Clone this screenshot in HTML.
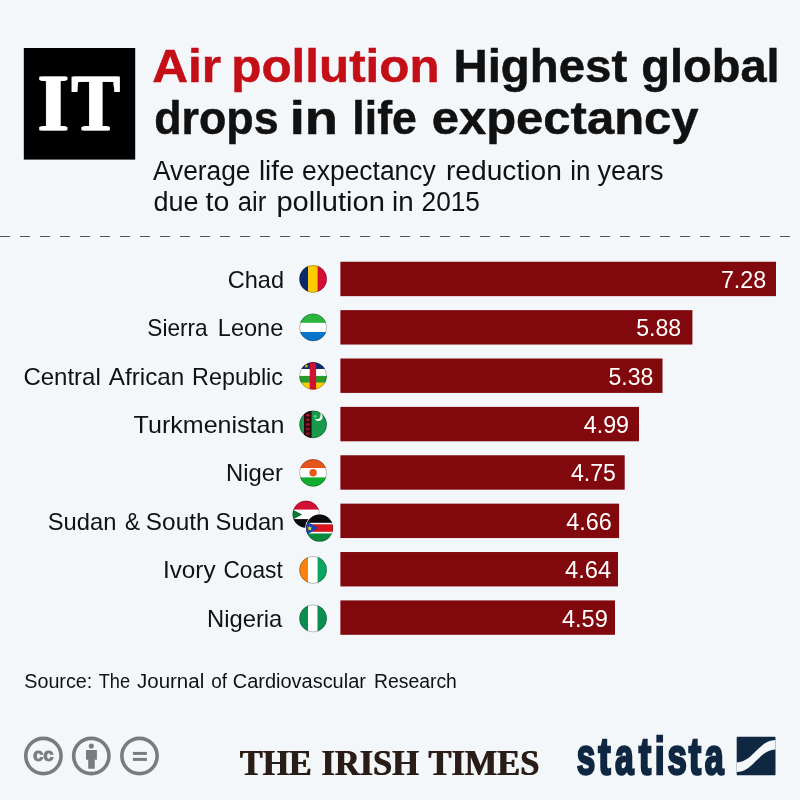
<!DOCTYPE html>
<html lang="en"><head><meta charset="utf-8"><title>Air pollution: Highest global drops in life expectancy</title>
<style>html,body{margin:0;padding:0;background:#f3f7fa}body{width:800px;height:800px;overflow:hidden}svg{display:block}text{font-family:"Liberation Sans",Arial,sans-serif;fill:#111}.ser{font-family:"Liberation Serif","Times New Roman",serif}.b{font-weight:bold}</style></head><body>
<svg width="800" height="800" viewBox="0 0 800 800">
<rect width="800" height="800" fill="#f3f7fa"/>
<rect x="23.8" y="48" width="111.4" height="111.6" fill="#000"/>
<filter id="hb" x="-10%" y="-10%" width="120%" height="120%"><feOffset in="SourceGraphic" dx="-1.1" result="a"/><feOffset in="SourceGraphic" dx="1.1" result="b"/><feMerge><feMergeNode in="a"/><feMergeNode in="SourceGraphic"/><feMergeNode in="b"/></feMerge></filter>
<g filter="url(#hb)"><text class="b ser" y="130.05" font-size="80.8" style="fill:#fff;stroke:#fff;stroke-width:0.4;"><tspan x="37.83" textLength="31.04" lengthAdjust="spacingAndGlyphs">I</tspan><tspan x="71.66" textLength="48.09" lengthAdjust="spacingAndGlyphs">T</tspan></text></g>
<text class="b" y="81.70" font-size="46.5" style="stroke:#111;stroke-width:0.5;"><tspan x="152.18" textLength="68.92" lengthAdjust="spacingAndGlyphs" style="fill:#c40f16;stroke:#c40f16">Air</tspan> <tspan x="231.32" textLength="208.23" lengthAdjust="spacingAndGlyphs" style="fill:#c40f16;stroke:#c40f16">pollution</tspan> <tspan x="453.44" textLength="173.80" lengthAdjust="spacingAndGlyphs">Highest</tspan> <tspan x="641.24" textLength="138.36" lengthAdjust="spacingAndGlyphs">global</tspan></text>
<text class="b" y="134.00" font-size="46.5" style="stroke:#111;stroke-width:0.5;"><tspan x="154.29" textLength="124.25" lengthAdjust="spacingAndGlyphs">drops</tspan> <tspan x="289.74" textLength="48.32" lengthAdjust="spacingAndGlyphs">in</tspan> <tspan x="352.37" textLength="64.45" lengthAdjust="spacingAndGlyphs">life</tspan> <tspan x="431.70" textLength="266.91" lengthAdjust="spacingAndGlyphs">expectancy</tspan></text>
<text y="179.70" font-size="27"><tspan x="153.00" textLength="97.49" lengthAdjust="spacingAndGlyphs">Average</tspan> <tspan x="258.98" textLength="35.31" lengthAdjust="spacingAndGlyphs">life</tspan> <tspan x="302.02" textLength="133.74" lengthAdjust="spacingAndGlyphs">expectancy</tspan> <tspan x="445.96" textLength="115.85" lengthAdjust="spacingAndGlyphs">reduction</tspan> <tspan x="570.29" textLength="20.19" lengthAdjust="spacingAndGlyphs">in</tspan> <tspan x="597.50" textLength="66.00" lengthAdjust="spacingAndGlyphs">years</tspan></text>
<text y="211.20" font-size="27"><tspan x="153.50" textLength="45.01" lengthAdjust="spacingAndGlyphs">due</tspan> <tspan x="205.50" textLength="23.83" lengthAdjust="spacingAndGlyphs">to</tspan> <tspan x="237.80" textLength="28.44" lengthAdjust="spacingAndGlyphs">air</tspan> <tspan x="276.42" textLength="108.42" lengthAdjust="spacingAndGlyphs">pollution</tspan> <tspan x="391.97" textLength="21.57" lengthAdjust="spacingAndGlyphs">in</tspan> <tspan x="421.53" textLength="58.46" lengthAdjust="spacingAndGlyphs">2015</tspan></text>
<line x1="0" y1="236.5" x2="800" y2="236.5" stroke="#555" stroke-width="1" stroke-dasharray="10 10"/>
<rect x="340.4" y="261.75" width="435.6" height="34.4" fill="#81080c"/>
<text y="287.95" font-size="24"><tspan x="227.82" textLength="56.20" lengthAdjust="spacingAndGlyphs">Chad</tspan></text>
<text transform="translate(720.93 287.95) scale(0.9699 1.0000)" font-size="24" style="fill:#fff">7.28</text>
<g><clipPath id="fc0"><circle cx="313.10" cy="278.90" r="13.70"/></clipPath><g clip-path="url(#fc0)"><rect x="298.40" y="264.20" width="9.70" height="29.40" fill="#0b2a6b"/><rect x="308.10" y="264.20" width="9.40" height="29.40" fill="#fecb00"/><rect x="317.50" y="264.20" width="10.30" height="29.40" fill="#d10f35"/></g><circle cx="313.10" cy="278.90" r="13.50" stroke="#000" stroke-opacity=".38" stroke-width=".7" fill="none"/></g>
<rect x="340.4" y="310.13" width="352.0" height="34.4" fill="#81080c"/>
<text y="336.33" font-size="24"><tspan x="147.36" textLength="60.28" lengthAdjust="spacingAndGlyphs">Sierra</tspan> <tspan x="217.77" textLength="65.57" lengthAdjust="spacingAndGlyphs">Leone</tspan></text>
<text transform="translate(636.25 336.33) scale(0.9630 1.0000)" font-size="24" style="fill:#fff">5.88</text>
<g><clipPath id="fc1"><circle cx="313.10" cy="327.40" r="13.70"/></clipPath><g clip-path="url(#fc1)"><rect x="298.40" y="312.70" width="29.40" height="10.20" fill="#2bb53c"/><rect x="298.40" y="322.90" width="29.40" height="9.10" fill="#ffffff"/><rect x="298.40" y="332.00" width="29.40" height="10.10" fill="#0a74c8"/></g><circle cx="313.10" cy="327.40" r="13.50" stroke="#000" stroke-opacity=".38" stroke-width=".7" fill="none"/></g>
<rect x="340.4" y="358.51" width="322.1" height="34.4" fill="#81080c"/>
<text y="384.71" font-size="24"><tspan x="23.40" textLength="77.43" lengthAdjust="spacingAndGlyphs">Central</tspan> <tspan x="108.75" textLength="75.61" lengthAdjust="spacingAndGlyphs">African</tspan> <tspan x="192.03" textLength="90.97" lengthAdjust="spacingAndGlyphs">Republic</tspan></text>
<text transform="translate(608.50 384.71) scale(0.9620 1.0000)" font-size="24" style="fill:#fff">5.38</text>
<g><clipPath id="fc2"><circle cx="313.10" cy="375.90" r="13.70"/></clipPath><g clip-path="url(#fc2)"><rect x="298.40" y="361.20" width="29.40" height="7.80" fill="#0b2a6b"/><rect x="298.40" y="369.00" width="29.40" height="6.90" fill="#ffffff"/><rect x="298.40" y="375.90" width="29.40" height="6.90" fill="#2a9a2a"/><rect x="298.40" y="382.80" width="29.40" height="7.80" fill="#ffce00"/><rect x="309.70" y="361.20" width="6.40" height="29.40" fill="#d21034"/><polygon points="306.40,364.10 306.93,365.47 308.40,365.55 307.26,366.48 307.63,367.90 306.40,367.10 305.17,367.90 305.54,366.48 304.40,365.55 305.87,365.47" fill="#ffce00"/></g><circle cx="313.10" cy="375.90" r="13.50" stroke="#000" stroke-opacity=".38" stroke-width=".7" fill="none"/></g>
<rect x="340.4" y="406.89" width="298.6" height="34.4" fill="#81080c"/>
<text y="433.09" font-size="24"><tspan x="133.60" textLength="150.81" lengthAdjust="spacingAndGlyphs">Turkmenistan</tspan></text>
<text transform="translate(583.75 433.09) scale(0.9706 1.0000)" font-size="24" style="fill:#fff">4.99</text>
<g><clipPath id="fc3"><circle cx="313.10" cy="424.40" r="13.70"/></clipPath><g clip-path="url(#fc3)"><rect x="298.40" y="409.70" width="29.40" height="29.40" fill="#179a4b"/><rect x="304.00" y="409.70" width="7.60" height="29.40" fill="#2c0a0d"/><ellipse cx="307.8" cy="415.20" rx="1.9" ry="1.2" fill="#a8182c"/><ellipse cx="307.8" cy="419.80" rx="1.9" ry="1.2" fill="#a8182c"/><ellipse cx="307.8" cy="424.40" rx="1.9" ry="1.2" fill="#a8182c"/><ellipse cx="307.8" cy="429.00" rx="1.9" ry="1.2" fill="#a8182c"/><ellipse cx="307.8" cy="433.60" rx="1.9" ry="1.2" fill="#a8182c"/><circle cx="318.30" cy="416.80" r="4.30" fill="#f2fff5"/><circle cx="316.60" cy="415.30" r="3.90" fill="#179a4b"/><circle cx="315.20" cy="416.20" r="1.5" fill="#6fdc9a" opacity=".75"/></g><circle cx="313.10" cy="424.40" r="13.50" stroke="#000" stroke-opacity=".38" stroke-width=".7" fill="none"/></g>
<rect x="340.4" y="455.27" width="284.3" height="34.4" fill="#81080c"/>
<text y="481.47" font-size="24"><tspan x="226.01" textLength="56.99" lengthAdjust="spacingAndGlyphs">Niger</tspan></text>
<text transform="translate(571.00 481.47) scale(0.9620 1.0000)" font-size="24" style="fill:#fff">4.75</text>
<g><clipPath id="fc4"><circle cx="313.10" cy="472.90" r="13.70"/></clipPath><g clip-path="url(#fc4)"><rect x="298.40" y="458.20" width="29.40" height="9.80" fill="#e4561b"/><rect x="298.40" y="468.00" width="29.40" height="9.40" fill="#ffffff"/><rect x="298.40" y="477.40" width="29.40" height="10.20" fill="#11ad2e"/><circle cx="313.10" cy="472.70" r="3.7" fill="#e4561b"/></g><circle cx="313.10" cy="472.90" r="13.50" stroke="#000" stroke-opacity=".38" stroke-width=".7" fill="none"/></g>
<rect x="340.4" y="503.65" width="278.7" height="34.4" fill="#81080c"/>
<text y="529.85" font-size="24"><tspan x="47.76" textLength="68.57" lengthAdjust="spacingAndGlyphs">Sudan</tspan> <tspan x="125.00" textLength="15.01" lengthAdjust="spacingAndGlyphs">&amp;</tspan> <tspan x="145.89" textLength="63.58" lengthAdjust="spacingAndGlyphs">South</tspan> <tspan x="215.61" textLength="68.72" lengthAdjust="spacingAndGlyphs">Sudan</tspan></text>
<text transform="translate(566.25 529.85) scale(0.9760 1.0000)" font-size="24" style="fill:#fff">4.66</text>
<g><clipPath id="fc5a"><circle cx="306.10" cy="514.25" r="13.50"/></clipPath><g clip-path="url(#fc5a)"><rect x="291.40" y="499.55" width="29.40" height="10.20" fill="#d21034"/><rect x="291.40" y="509.75" width="29.40" height="9.35" fill="#ffffff"/><rect x="291.40" y="519.10" width="29.40" height="9.85" fill="#0a0a0a"/><polygon points="288.00,507.20 302.20,514.60 288.00,522.20" fill="#0a7a33"/></g><circle cx="306.10" cy="514.25" r="13.30" stroke="#000" stroke-opacity=".38" stroke-width=".7" fill="none"/></g><circle cx="319.60" cy="528.10" r="14.40" fill="#f3f7fa"/><g><clipPath id="fc5b"><circle cx="319.60" cy="528.10" r="13.50"/></clipPath><g clip-path="url(#fc5b)"><rect x="304.90" y="513.40" width="29.40" height="9.50" fill="#0a0a0a"/><rect x="304.90" y="522.90" width="29.40" height="1.40" fill="#ffffff"/><rect x="304.90" y="524.30" width="29.40" height="7.60" fill="#da121a"/><rect x="304.90" y="531.90" width="29.40" height="1.60" fill="#ffffff"/><rect x="304.90" y="533.50" width="29.40" height="9.30" fill="#0a8a3a"/><polygon points="300.00,517.50 318.30,528.10 300.00,538.70" fill="#1545b4"/><polygon points="309.70,525.80 310.35,527.51 312.17,527.60 310.75,528.74 311.23,530.50 309.70,529.50 308.17,530.50 308.65,528.74 307.23,527.60 309.05,527.51" fill="#fce100"/></g><circle cx="319.60" cy="528.10" r="13.30" stroke="#000" stroke-opacity=".38" stroke-width=".7" fill="none"/></g>
<rect x="340.4" y="552.03" width="277.6" height="34.4" fill="#81080c"/>
<text y="578.23" font-size="24"><tspan x="162.98" textLength="52.62" lengthAdjust="spacingAndGlyphs">Ivory</tspan> <tspan x="223.46" textLength="59.23" lengthAdjust="spacingAndGlyphs">Coast</tspan></text>
<text transform="translate(565.00 578.23) scale(0.9900 1.0000)" font-size="24" style="fill:#fff">4.64</text>
<g><clipPath id="fc6"><circle cx="313.10" cy="569.90" r="13.70"/></clipPath><g clip-path="url(#fc6)"><rect x="298.40" y="555.20" width="9.70" height="29.40" fill="#f98210"/><rect x="308.10" y="555.20" width="9.50" height="29.40" fill="#ffffff"/><rect x="317.60" y="555.20" width="10.20" height="29.40" fill="#0aa563"/></g><circle cx="313.10" cy="569.90" r="13.50" stroke="#000" stroke-opacity=".38" stroke-width=".7" fill="none"/></g>
<rect x="340.4" y="600.41" width="274.6" height="34.4" fill="#81080c"/>
<text y="626.61" font-size="24"><tspan x="207.01" textLength="75.34" lengthAdjust="spacingAndGlyphs">Nigeria</tspan></text>
<text transform="translate(561.90 626.61) scale(0.9835 1.0000)" font-size="24" style="fill:#fff">4.59</text>
<g><clipPath id="fc7"><circle cx="313.10" cy="618.40" r="13.70"/></clipPath><g clip-path="url(#fc7)"><rect x="298.40" y="603.70" width="9.70" height="29.40" fill="#0a8f50"/><rect x="308.10" y="603.70" width="9.40" height="29.40" fill="#ffffff"/><rect x="317.50" y="603.70" width="10.30" height="29.40" fill="#0a8f50"/></g><circle cx="313.10" cy="618.40" r="13.50" stroke="#000" stroke-opacity=".38" stroke-width=".7" fill="none"/></g>
<text y="688.00" font-size="20"><tspan x="24.25" textLength="68.04" lengthAdjust="spacingAndGlyphs">Source:</tspan> <tspan x="98.75" textLength="31.36" lengthAdjust="spacingAndGlyphs">The</tspan> <tspan x="137.00" textLength="67.20" lengthAdjust="spacingAndGlyphs">Journal</tspan> <tspan x="211.25" textLength="15.83" lengthAdjust="spacingAndGlyphs">of</tspan> <tspan x="232.75" textLength="133.16" lengthAdjust="spacingAndGlyphs">Cardiovascular</tspan> <tspan x="374.03" textLength="82.86" lengthAdjust="spacingAndGlyphs">Research</tspan></text>
<circle cx="43.40" cy="756.00" r="17.65" fill="none" stroke="#787c7f" stroke-width="3.6"/><circle cx="91.30" cy="756.00" r="17.65" fill="none" stroke="#787c7f" stroke-width="3.6"/><circle cx="139.50" cy="756.00" r="17.65" fill="none" stroke="#787c7f" stroke-width="3.6"/><text class="b" y="761.05" font-size="19" style="fill:#787c7f;stroke:#787c7f;stroke-width:0.9;"><tspan x="32.95" textLength="20.77" lengthAdjust="spacingAndGlyphs">cc</tspan></text><circle cx="91.3" cy="746" r="2.55" fill="#787c7f"/><path d="M86 750.1h10.9v9.65h-2.15v9.05h-6.55v-9.05H86z" fill="#787c7f"/><rect x="132.9" y="751.9" width="14" height="3" fill="#787c7f"/><rect x="132.9" y="757.9" width="14" height="3" fill="#787c7f"/><filter id="hb2" x="-5%" y="-10%" width="110%" height="120%"><feOffset in="SourceGraphic" dx="1" result="b"/><feMerge><feMergeNode in="SourceGraphic"/><feMergeNode in="b"/></feMerge></filter><g filter="url(#hb2)"><text class="b ser" y="774.70" font-size="36" style="fill:#2a1c12;"><tspan x="239.50" textLength="71.70" lengthAdjust="spacingAndGlyphs">THE</tspan> <tspan x="321.05" textLength="97.36" lengthAdjust="spacingAndGlyphs">IRISH</tspan> <tspan x="428.00" textLength="110.88" lengthAdjust="spacingAndGlyphs">TIMES</tspan></text></g><text class="b" y="773.50" font-size="51.5" style="fill:#0f2741;stroke:#0f2741;stroke-width:2.6;"><tspan x="576.70" textLength="18.51" lengthAdjust="spacingAndGlyphs">s</tspan><tspan x="598.35" textLength="12.41" lengthAdjust="spacingAndGlyphs">t</tspan><tspan x="614.95" textLength="18.72" lengthAdjust="spacingAndGlyphs">a</tspan><tspan x="638.85" textLength="12.41" lengthAdjust="spacingAndGlyphs">t</tspan><tspan x="654.77" textLength="9.93" lengthAdjust="spacingAndGlyphs">i</tspan><tspan x="667.42" textLength="19.33" lengthAdjust="spacingAndGlyphs">s</tspan><tspan x="688.85" textLength="12.41" lengthAdjust="spacingAndGlyphs">t</tspan><tspan x="704.69" textLength="18.98" lengthAdjust="spacingAndGlyphs">a</tspan></text><rect x="736.7" y="736.8" width="38.8" height="38.5" rx="1" fill="#0f2741"/><path d="M736.7 762.3 C753 762.3 759 740 775.5 740 V749.6 C759.5 749.6 753 772 736.7 772 Z" fill="#f3f7fa"/>
</svg></body></html>
